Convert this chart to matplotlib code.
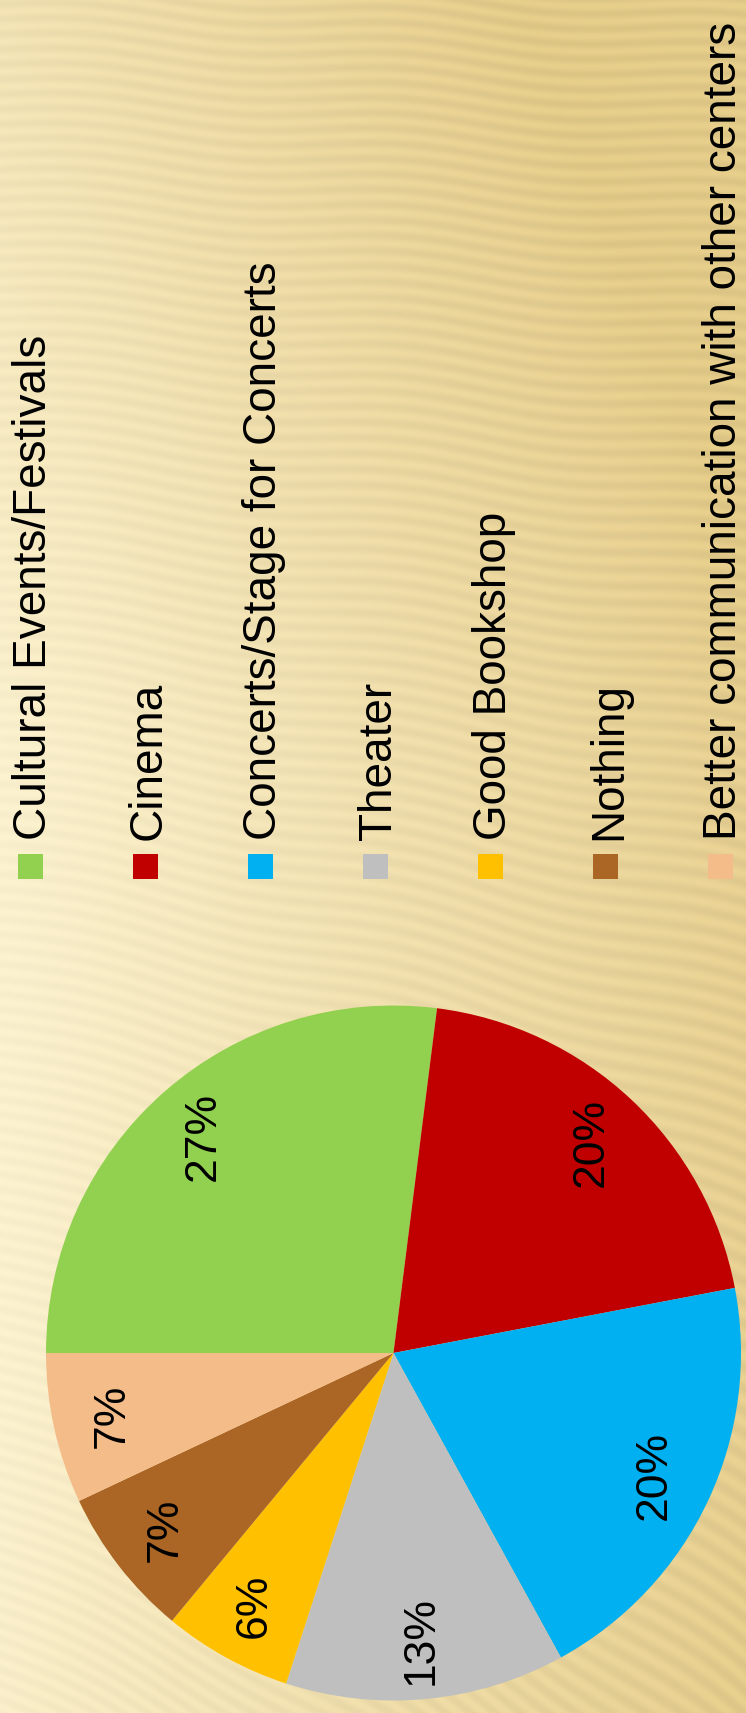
import numpy as np
import matplotlib
matplotlib.use("Agg")
import matplotlib.pyplot as plt
from matplotlib.patches import Rectangle

# Survey answers: what the cultural centre is missing
categories = [
    "Cultural Events/Festivals",
    "Cinema",
    "Concerts/Stage for Concerts",
    "Theater",
    "Good Bookshop",
    "Nothing",
    "Better communication with other centers",
]
shares = [27, 20, 20, 13, 6, 7, 7]
colors = ["#92D050", "#C00000", "#00B0F0", "#BFBFBF", "#FFC000", "#AB6524", "#F4BC89"]

W, H, DPI = 746, 1713, 100
plt.rcParams["font.family"] = ["Liberation Sans", "DejaVu Sans"]

fig = plt.figure(figsize=(W / DPI, H / DPI), dpi=DPI)

# ---- cream background with soft wavy stripes ----
yy, xx = np.mgrid[0:H, 0:W].astype(float)
u, v = xx / W, yy / H
light = np.array([253, 243, 208]) / 255.0
dark = np.array([232, 207, 140]) / 255.0
t = 0.9 * u + 0.38 * np.clip((0.45 - v) / 0.45, 0, 1) + 0.08 * np.clip((v - 0.8) / 0.2, 0, 1)
t = np.clip(t, 0, 1)
base = light[None, None, :] * (1 - t[..., None]) + dark[None, None, :] * t[..., None]
slope = 0.06 + 0.45 * v ** 2
phase = (yy - slope * xx) / 15.0 + 0.35 * np.sin(2 * np.pi * xx / 320.0)
stripe = 0.5 + 0.5 * np.sin(2 * np.pi * phase)
amp = 0.022 + 0.03 * t
bg = base * (1 - amp[..., None] * stripe[..., None])

bg_ax = fig.add_axes([0, 0, 1, 1], zorder=0)
bg_ax.imshow(np.clip(bg, 0, 1), aspect="auto", extent=(0, W, H, 0), interpolation="bilinear")
bg_ax.set_xlim(0, W)
bg_ax.set_ylim(H, 0)
bg_ax.axis("off")

# ---- pie (drawn turned a quarter turn, 12 o'clock pointing left) ----
cx, cy, r = 393.5, 1353.0, 347.5
ax = fig.add_axes([(cx - r) / W, (H - cy - r) / H, 2 * r / W, 2 * r / H], zorder=1)
ax.pie(
    shares,
    colors=colors,
    startangle=180,
    counterclock=False,
    autopct="%.0f%%",
    pctdistance=0.83,
    wedgeprops=dict(linewidth=0),
    textprops=dict(rotation=90, fontsize=32, color="black"),
)
ax.set_xlim(-1, 1)
ax.set_ylim(-1, 1)
ax.axis("off")

# ---- legend: colour squares with upright-running labels ----
step = 115
for i, (name, c) in enumerate(zip(categories, colors)):
    x0 = 18 + step * i
    fig.patches.append(
        Rectangle((x0 / W, 1 - 879 / H), 25 / W, 25 / H,
                  transform=fig.transFigure, facecolor=c, linewidth=0, zorder=2)
    )
    fig.text((x0 + 28) / W, 1 - 840 / H, name, rotation=90, rotation_mode="anchor",
             ha="left", va="baseline", fontsize=33, color="black", zorder=3)

fig.savefig("out.png", dpi=DPI)
